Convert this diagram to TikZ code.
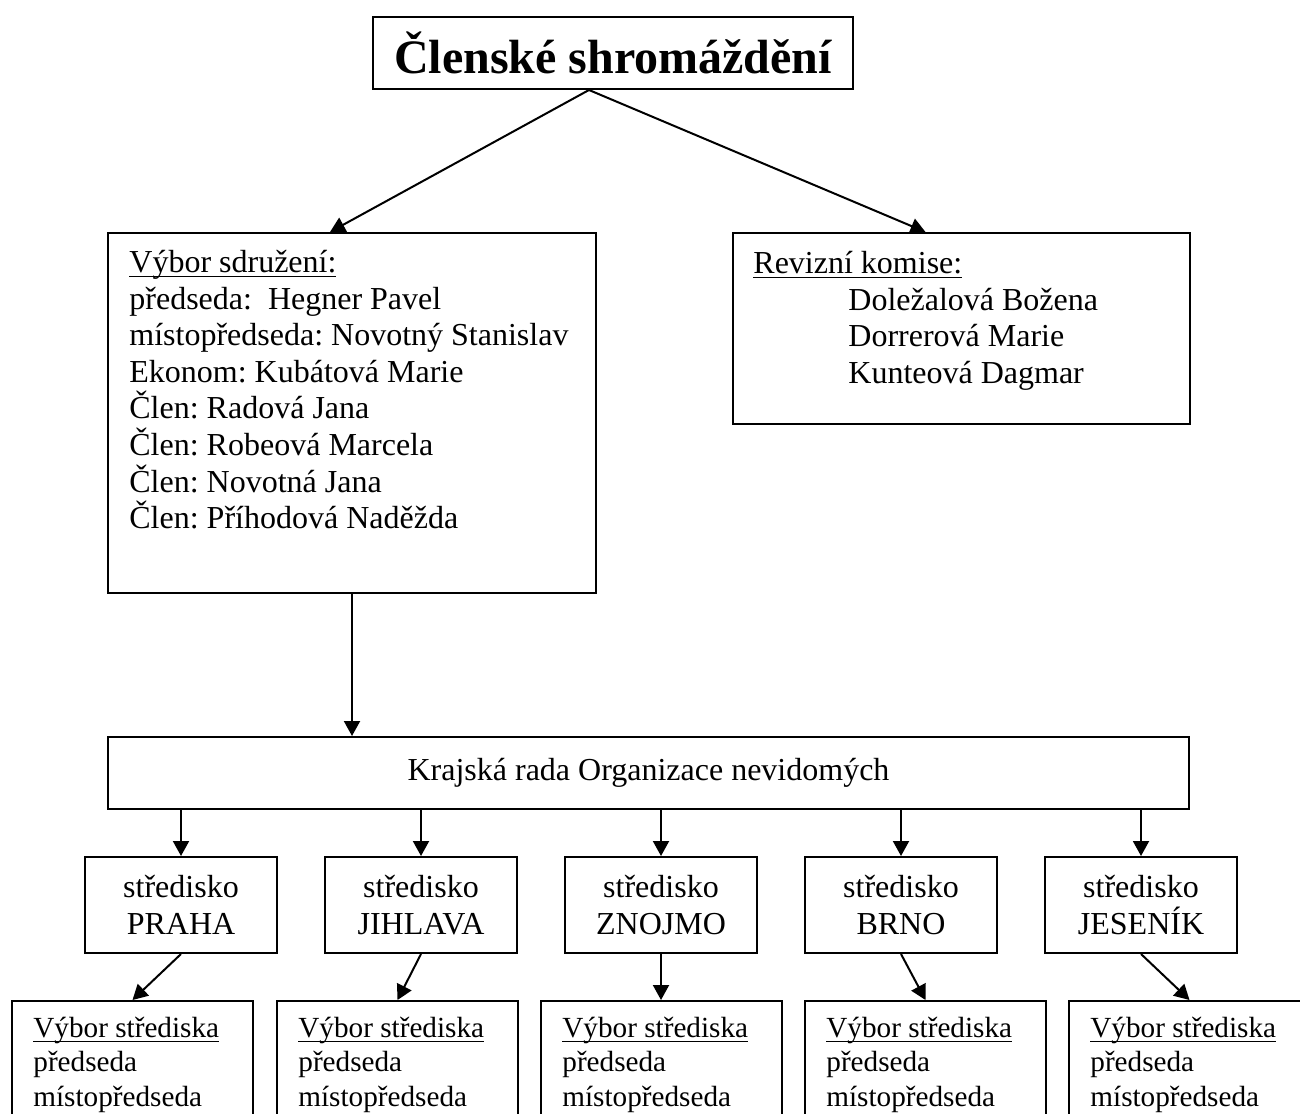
\documentclass[tikz,border=0pt]{standalone}
\usepackage{fontspec}
\setmainfont{Liberation Serif}
\usetikzlibrary{arrows.meta}
\frenchspacing
\newcommand\podtrh[1]{\setbox0\hbox{#1}\rlap{\rule[-2.5pt]{\wd0}{0.8pt}}\box0}
\begin{document}
\begin{tikzpicture}[x=0.5pt,y=-0.5pt,
  box/.style={draw,line width=1pt,inner sep=0pt},
  txt/.style={font=\fontsize{16}{18.3}\selectfont},
  maly/.style={font=\fontsize{14.6}{17.2}\selectfont,anchor=north west,inner sep=0pt,align=left},
  sipka/.style={draw,line width=1pt,-{Triangle[length=7.5pt,width=8pt]}}]
\useasboundingbox (0,0) rectangle (1300,1113);
\clip (0,0) rectangle (1300,1113);

\node[box,minimum width=240pt,minimum height=36pt,font=\fontsize{24}{28}\selectfont\bfseries] (shrom) at (613,53) {Členské shromáždění};

\node[box,minimum width=244pt,minimum height=180pt] (vybor) at (352,413) {};
\node[txt,anchor=north west,inner sep=0pt,align=left] (vybortxt) at (129,246.4) {\strut\podtrh{Výbor sdružení:}\\
předseda:\ \ Hegner Pavel\\
místopředseda: Novotný Stanislav\\
Ekonom: Kubátová Marie\\
Člen: Radová Jana\\
Člen: Robeová Marcela\\
Člen: Novotná Jana\\
Člen: Příhodová Naděžda};

\node[box,minimum width=228.5pt,minimum height=95.5pt] (revize) at (961.5,328.5) {};
\node[txt,anchor=north west,inner sep=0pt,align=left] (revizetxt) at (753,247.4) {\strut\podtrh{Revizní komise:}\\
\hspace*{47.5pt}Doležalová Božena\\
\hspace*{47.5pt}Dorrerová Marie\\
\hspace*{47.5pt}Kunteová Dagmar};

\node[box,txt,minimum width=540.5pt,minimum height=36pt] (kraj) at (648.5,773) {Krajská rada Organizace nevidomých};

\node[box,txt,minimum width=96pt,minimum height=48pt,align=center] (praha) at (181,905) {středisko\\PRAHA};
\node[box,txt,minimum width=96pt,minimum height=48pt,align=center] (jihlava) at (421,905) {středisko\\JIHLAVA};
\node[box,txt,minimum width=96pt,minimum height=48pt,align=center] (znojmo) at (661,905) {středisko\\ZNOJMO};
\node[box,txt,minimum width=96pt,minimum height=48pt,align=center] (brno) at (901,905) {středisko\\BRNO};
\node[box,txt,minimum width=96pt,minimum height=48pt,align=center] (jesenik) at (1141,905) {středisko\\JESENÍK};

\node[box,minimum width=120.5pt,minimum height=150pt] (vpraha) at (132.5,1151) {};
\node[box,minimum width=120.5pt,minimum height=150pt] (vjihlava) at (397.5,1151) {};
\node[box,minimum width=120.5pt,minimum height=150pt] (vznojmo) at (661,1151) {};
\node[box,minimum width=120.5pt,minimum height=150pt] (vbrno) at (925.5,1151) {};
\node[box,minimum width=120.5pt,minimum height=150pt] (vjesenik) at (1189.5,1151) {};

\node[maly] (tpraha) at (33,1013) {\strut\podtrh{Výbor střediska}\\předseda\\místopředseda};
\node[maly] (tjihlava) at (298,1013) {\strut\podtrh{Výbor střediska}\\předseda\\místopředseda};
\node[maly] (tznojmo) at (562,1013) {\strut\podtrh{Výbor střediska}\\předseda\\místopředseda};
\node[maly] (tbrno) at (826,1013) {\strut\podtrh{Výbor střediska}\\předseda\\místopředseda};
\node[maly] (tjesenik) at (1090,1013) {\strut\podtrh{Výbor střediska}\\předseda\\místopředseda};

\path[sipka] ([xshift=-12pt]shrom.south) -- ([xshift=-11pt]vybor.north);
\path[sipka] ([xshift=-12pt]shrom.south) -- ([xshift=-18pt]revize.north);
\path[sipka] (vybor.south) -- (kraj.north -| vybor.south);

\path[sipka] (kraj.south -| praha.north) -- (praha.north);
\path[sipka] (kraj.south -| jihlava.north) -- (jihlava.north);
\path[sipka] (kraj.south -| znojmo.north) -- (znojmo.north);
\path[sipka] (kraj.south -| brno.north) -- (brno.north);
\path[sipka] (kraj.south -| jesenik.north) -- (jesenik.north);

\path[sipka] (praha.south) -- (vpraha.north);
\path[sipka] (jihlava.south) -- (vjihlava.north);
\path[sipka] (znojmo.south) -- (vznojmo.north);
\path[sipka] (brno.south) -- (vbrno.north);
\path[sipka] (jesenik.south) -- (vjesenik.north);
\end{tikzpicture}
\end{document}
